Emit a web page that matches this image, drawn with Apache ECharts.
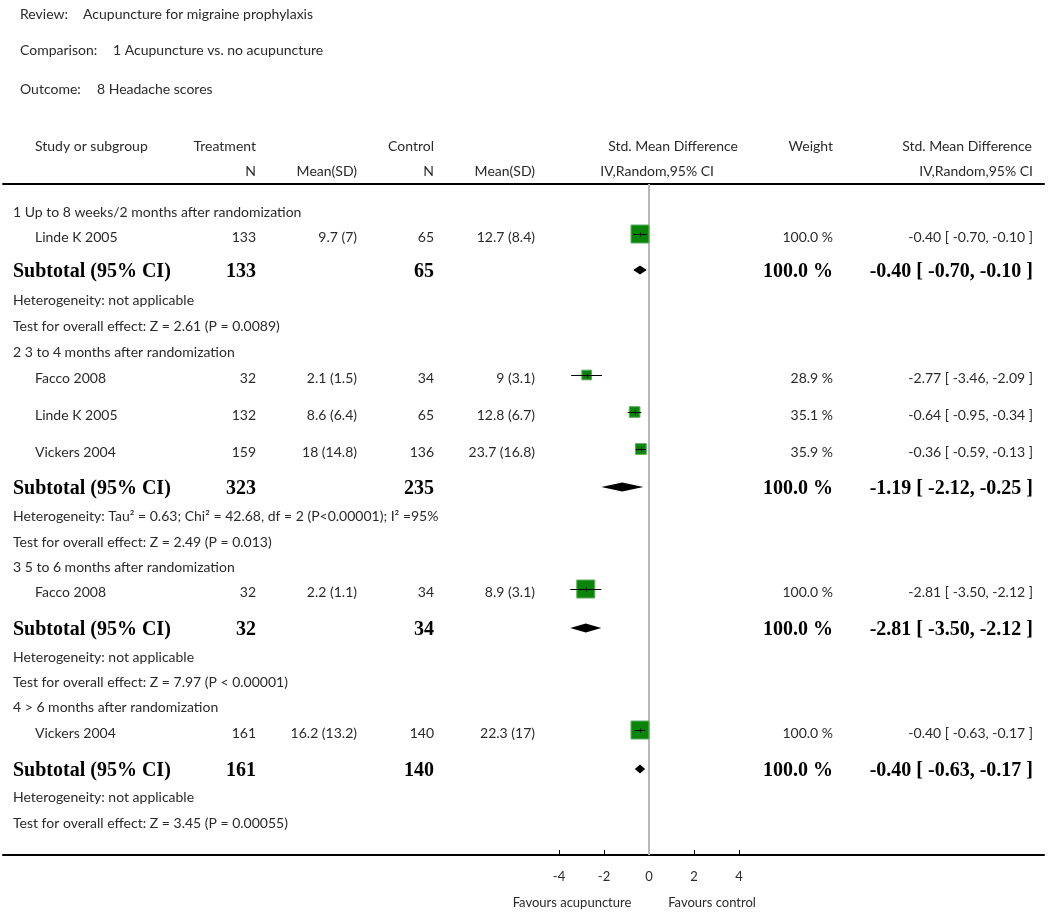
<!DOCTYPE html>
<html><head><meta charset="utf-8">
<script src="https://cdn.jsdelivr.net/npm/echarts@6/dist/echarts.min.js"></script>
<style>html,body{margin:0;padding:0;background:#fff}#c{width:1050px;height:914px}</style>
</head><body><div id="c"></div>
<script>
// ---------------- DATA ----------------
const reviewTitle = 'Acupuncture for migraine prophylaxis';
const comparisonTitle = '1 Acupuncture vs. no acupuncture';
const outcomeTitle = '8 Headache scores';

const subgroups = [
  '1 Up to 8 weeks/2 months after randomization',
  '2 3 to 4 months after randomization',
  '3 5 to 6 months after randomization',
  '4 > 6 months after randomization'
];
const studyNames   = ['Linde K 2005', 'Facco 2008', 'Linde K 2005', 'Vickers 2004', 'Facco 2008', 'Vickers 2004'];
const studyGroup   = [0, 1, 1, 1, 2, 3];
const treatN       = [133, 32, 132, 159, 32, 161];
const treatMeanSD  = ['9.7 (7)', '2.1 (1.5)', '8.6 (6.4)', '18 (14.8)', '2.2 (1.1)', '16.2 (13.2)'];
const ctrlN        = [65, 34, 65, 136, 34, 140];
const ctrlMeanSD   = ['12.7 (8.4)', '9 (3.1)', '12.8 (6.7)', '23.7 (16.8)', '8.9 (3.1)', '22.3 (17)'];
const studySMD     = [-0.40, -2.77, -0.64, -0.36, -2.81, -0.40];
const studyLow     = [-0.70, -3.46, -0.95, -0.59, -3.50, -0.63];
const studyHigh    = [-0.10, -2.09, -0.34, -0.13, -2.12, -0.17];
const studyWeight  = [100.0, 28.9, 35.1, 35.9, 100.0, 100.0];

const subTreatN    = [133, 323, 32, 161];
const subCtrlN     = [65, 235, 34, 140];
const subSMD       = [-0.40, -1.19, -2.81, -0.40];
const subLow       = [-0.70, -2.12, -3.50, -0.63];
const subHigh      = [-0.10, -0.25, -2.12, -0.17];
const subWeight    = [100.0, 100.0, 100.0, 100.0];
const heterogeneity = [
  'Heterogeneity: not applicable',
  'Heterogeneity: Tau² = 0.63; Chi² = 42.68, df = 2 (P<0.00001); I² =95%',
  'Heterogeneity: not applicable',
  'Heterogeneity: not applicable'
];
const overallEffect = [
  'Test for overall effect: Z = 2.61 (P = 0.0089)',
  'Test for overall effect: Z = 2.49 (P = 0.013)',
  'Test for overall effect: Z = 7.97 (P < 0.00001)',
  'Test for overall effect: Z = 3.45 (P = 0.00055)'
];
const xTicks = [-4, -2, 0, 2, 4];
const favourLabels = ['Favours acupuncture', 'Favours control'];
const headerRow1 = ['Study or subgroup', 'Treatment', 'Control', 'Std. Mean Difference', 'Weight', 'Std. Mean Difference'];
const headerRow2 = ['N', 'Mean(SD)', 'N', 'Mean(SD)', 'IV,Random,95% CI', 'IV,Random,95% CI'];

// ---------------- LAYOUT ----------------
const FONT = 'Lato, "Open Sans", sans-serif';
const SERIF = '"Liberation Serif", "DejaVu Serif", serif';
const TXT = '#2a2a2a';
const FS = 14, BFS = 20, AXFS = 13;
const PLOT_LEFT = 3, PLOT_RIGHT = 1044, ZERO_X = 649, PX_PER_UNIT = 22.5;
const GRID_TOP = 184, GRID_BOTTOM = 855;
const COL = { group: 13, study: 35, tN: 256, tM: 357, cN: 434, cM: 535, w: 833, ci: 1033 };
const groupTitleY = [212, 352, 567, 707];
const studyY      = [234, 375, 412, 449, 589, 730];
const subtotalY   = [270, 487, 628, 769];
const hetY        = [300, 516, 657, 797];
const testY       = [326, 542, 682, 823];
const MAX_BOX = 18, DIAMOND_H = 4.5;

const f2 = v => v.toFixed(2);
const ciText = (e, l, h) => `${f2(e)} [ ${f2(l)}, ${f2(h)} ]`;
const wText = w => w.toFixed(1) + ' %';

// ---------------- TABLE ROWS ----------------
const rows = [];
const reg = (t, x, align) => ({ t: String(t), x, align, font: `${FS}px ${FONT}` });
const bold = (t, x, align) => ({ t: String(t), x, align, font: `bold ${BFS}px ${SERIF}`, color: '#000' });
subgroups.forEach((g, gi) => {
  rows.push({ y: groupTitleY[gi], cells: [reg(g, COL.group, 'left')] });
  studyNames.forEach((n, i) => {
    if (studyGroup[i] !== gi) return;
    rows.push({ y: studyY[i] + 3, cells: [
      reg(n, COL.study, 'left'),
      reg(treatN[i], COL.tN, 'right'),
      reg(treatMeanSD[i], COL.tM, 'right'),
      reg(ctrlN[i], COL.cN, 'right'),
      reg(ctrlMeanSD[i], COL.cM, 'right'),
      reg(wText(studyWeight[i]), COL.w, 'right'),
      reg(ciText(studySMD[i], studyLow[i], studyHigh[i]), COL.ci, 'right')
    ]});
  });
  rows.push({ y: subtotalY[gi] + 2, cells: [
    bold('Subtotal (95% CI)', COL.group, 'left'),
    bold(subTreatN[gi], COL.tN, 'right'),
    bold(subCtrlN[gi], COL.cN, 'right'),
    bold(wText(subWeight[gi]), COL.w, 'right'),
    bold(ciText(subSMD[gi], subLow[gi], subHigh[gi]), COL.ci, 'right')
  ]});
  rows.push({ y: hetY[gi], cells: [reg(heterogeneity[gi], COL.group, 'left')] });
  rows.push({ y: testY[gi], cells: [reg(overallEffect[gi], COL.group, 'left')] });
});

// ---------------- GRAPHIC (titles / headers) ----------------
const gText = (t, x, y, align, size) => ({
  type: 'text', x, y, style: { text: t, font: `${size || FS}px ${FONT}`, fill: TXT, align: align || 'left', verticalAlign: 'middle' }
});
const graphics = [
  gText('Review:', 20, 14), gText(reviewTitle, 83, 14),
  gText('Comparison:', 20, 50), gText(comparisonTitle, 113, 50),
  gText('Outcome:', 20, 89), gText(outcomeTitle, 97, 89),
  gText(headerRow1[0], 35, 146, 'left'),
  gText(headerRow1[1], 256, 146, 'right'),
  gText(headerRow1[2], 434, 146, 'right'),
  gText(headerRow1[3], 738, 146, 'right'),
  gText(headerRow1[4], 833, 146, 'right'),
  gText(headerRow1[5], 1032, 146, 'right'),
  gText(headerRow2[0], 256, 171, 'right'),
  gText(headerRow2[1], 357, 171, 'right'),
  gText(headerRow2[2], 434, 171, 'right'),
  gText(headerRow2[3], 535, 171, 'right'),
  gText(headerRow2[4], 714, 171, 'right'),
  gText(headerRow2[5], 1033, 171, 'right'),
  gText(favourLabels[0], 572, 903, 'center', AXFS),
  gText(favourLabels[1], 712, 903, 'center', AXFS)
];

// ---------------- CHART ----------------
const xMin = (PLOT_LEFT - ZERO_X) / PX_PER_UNIT;
const xMax = (PLOT_RIGHT - ZERO_X) / PX_PER_UNIT;
const chart = echarts.init(document.getElementById('c'), null, { renderer: 'canvas' });

const snap = v => Math.round(v) + 0.5;

chart.setOption({
  animation: false,
  backgroundColor: '#fff',
  grid: { left: PLOT_LEFT, right: 1050 - PLOT_RIGHT, top: GRID_TOP, bottom: 914 - GRID_BOTTOM, containLabel: false },
  xAxis: [{
    type: 'value', min: xMin, max: xMax, position: 'bottom',
    axisLine: { show: true, lineStyle: { color: '#000', width: 2 } },
    axisTick: { show: true, inside: true, length: 5, customValues: xTicks, lineStyle: { color: '#000', width: 1 } },
    axisLabel: { show: true, customValues: xTicks, margin: 15, fontSize: AXFS, fontFamily: FONT, color: TXT },
    splitLine: { show: false }
  }, {
    type: 'value', min: xMin, max: xMax, position: 'top',
    axisLine: { show: true, onZero: false, lineStyle: { color: '#000', width: 2 } },
    axisTick: { show: false }, axisLabel: { show: false }, splitLine: { show: false }
  }],
  yAxis: { type: 'value', min: GRID_TOP, max: GRID_BOTTOM, inverse: true, show: false },
  graphic: graphics,
  series: [
    {
      type: 'custom', name: 'table', xAxisIndex: 0, silent: true,
      data: rows.map(r => [0, r.y]),
      encode: { x: 0, y: 1 },
      renderItem: (params, api) => {
        const r = rows[params.dataIndex];
        const y = api.coord([0, api.value(1)])[1];
        return { type: 'group', children: r.cells.map(c => ({
          type: 'text', x: c.x, y,
          style: { text: c.t, font: c.font, fill: c.color || TXT, align: c.align, verticalAlign: 'middle' }
        })) };
      }
    },
    {
      type: 'custom', name: 'studies', xAxisIndex: 0, silent: true, z: 3,
      data: studySMD.map((e, i) => [e, studyY[i], studyLow[i], studyHigh[i], studyWeight[i]]),
      encode: { x: [0, 2, 3], y: 1 },
      renderItem: (params, api) => {
        const p = api.coord([api.value(0), api.value(1)]);
        const lo = api.coord([api.value(2), api.value(1)]);
        const hi = api.coord([api.value(3), api.value(1)]);
        const s = MAX_BOX * Math.sqrt(api.value(4) / 100);
        const yy = snap(p[1]);
        return { type: 'group', children: [
          { type: 'rect', shape: { x: p[0] - s / 2, y: p[1] - s / 2, width: s, height: s },
            style: { fill: '#0a850a', stroke: '#5fae5f', lineWidth: 1 } },
          { type: 'line', shape: { x1: lo[0], y1: yy, x2: hi[0], y2: yy }, style: { stroke: '#000', lineWidth: 1 } },
          { type: 'line', shape: { x1: snap(p[0]), y1: yy - 2, x2: snap(p[0]), y2: yy + 2 }, style: { stroke: '#000', lineWidth: 1 } }
        ] };
      },
      markLine: {
        silent: true, symbol: ['none', 'none'], label: { show: false },
        lineStyle: { color: '#b8b8b8', width: 2, type: 'solid' },
        data: [{ xAxis: 0 }], z: 1
      }
    },
    {
      type: 'custom', name: 'subtotals', xAxisIndex: 0, silent: true, z: 3,
      data: subSMD.map((e, i) => [e, subtotalY[i], subLow[i], subHigh[i]]),
      encode: { x: [0, 2, 3], y: 1 },
      renderItem: (params, api) => {
        const p = api.coord([api.value(0), api.value(1)]);
        const lo = api.coord([api.value(2), api.value(1)]);
        const hi = api.coord([api.value(3), api.value(1)]);
        return { type: 'polygon', shape: { points: [[lo[0], p[1]], [p[0], p[1] - DIAMOND_H], [hi[0], p[1]], [p[0], p[1] + DIAMOND_H]] },
          style: { fill: '#000' } };
      }
    }
  ]
});
</script>
</body></html>
